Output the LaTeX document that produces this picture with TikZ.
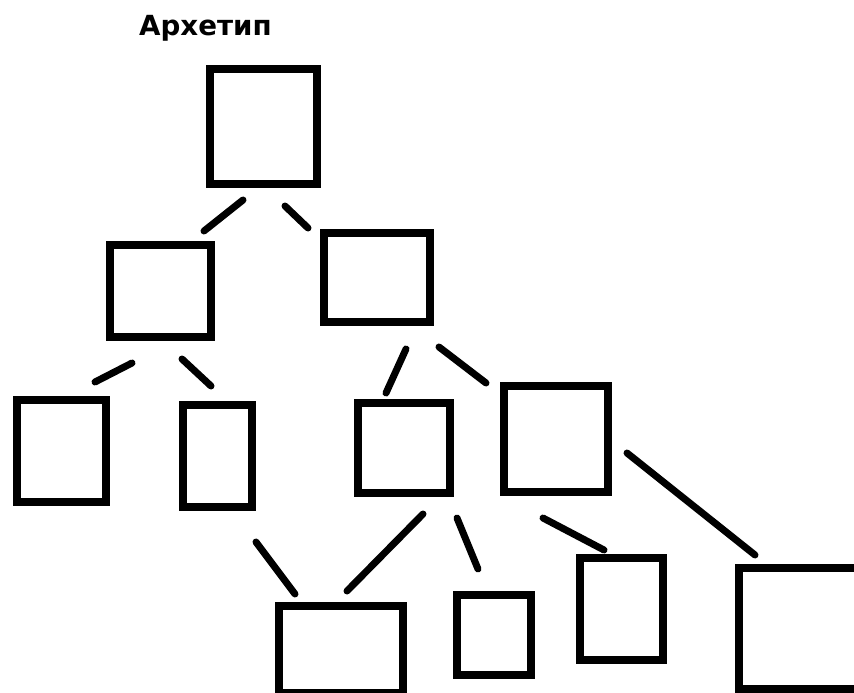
\documentclass[tikz,border=0pt]{standalone}
\usepackage{fontspec}
\setmainfont{DejaVu Sans}
\begin{document}
\begin{tikzpicture}[x=1bp,y=-1bp,
  box/.style={draw=black, line width=8bp, rectangle, inner sep=0pt, outer sep=0pt, fill=none},
  link/.style={draw=black, line width=7bp, line cap=round}]
\clip (0,0) rectangle (854,693);
\fill[white] (0,0) rectangle (854,693);
\node[anchor=base west, inner sep=0pt] (title) at (139,36) {\bfseries\fontsize{27.8}{32}\selectfont Архетип};
% boxes (stroke-centre sizes)
\node[box, minimum width=106.7bp, minimum height=115bp]   (top) at (263.35,126.5) {};
\node[box, minimum width=101bp,   minimum height=92bp]    (l1)  at (160.5,290.7) {};
\node[box, minimum width=106bp,   minimum height=88.7bp]  (r1)  at (377,277.65) {};
\node[box, minimum width=88.8bp,  minimum height=101.7bp] (ll)  at (61.1,450.85) {};
\node[box, minimum width=68.7bp,  minimum height=101.8bp] (lr)  at (217.35,455.9) {};
\node[box, minimum width=92.2bp,  minimum height=90.3bp]  (rl)  at (403.9,448.15) {};
\node[box, minimum width=104bp,   minimum height=105.2bp] (rr)  at (556,438.9) {};
\node[box, minimum width=124bp,   minimum height=87bp]    (b1)  at (340.8,649.5) {};
\node[box, minimum width=74bp,    minimum height=80.5bp]  (b2)  at (493.7,634.75) {};
\node[box, minimum width=83.8bp,  minimum height=102bp]   (b3)  at (621.4,608.5) {};
\node[box, minimum width=136bp,   minimum height=121.5bp] (b4)  at (807,628.25) {};
% connector ends
\coordinate (a1) at (243,200);  \coordinate (a2) at (204,231);
\coordinate (b1s) at (285,206); \coordinate (b1e) at (308,228);
\coordinate (c1) at (132,363);  \coordinate (c2) at (95,382);
\coordinate (d1) at (182,359);  \coordinate (d2) at (211,386);
\coordinate (e1) at (406,349);  \coordinate (e2) at (386,393);
\coordinate (f1) at (439,347);  \coordinate (f2) at (486,383);
\coordinate (g1) at (423,514);  \coordinate (g2) at (347,591);
\coordinate (h1) at (457,518);  \coordinate (h2) at (478,569);
\coordinate (i1) at (256,542);  \coordinate (i2) at (295,594);
\coordinate (j1) at (543,518);  \coordinate (j2) at (604,550);
\coordinate (k1) at (627,453);  \coordinate (k2) at (755,555);
\draw[link] (a1) -- (a2);
\draw[link] (b1s) -- (b1e);
\draw[link] (c1) -- (c2);
\draw[link] (d1) -- (d2);
\draw[link] (e1) -- (e2);
\draw[link] (f1) -- (f2);
\draw[link] (g1) -- (g2);
\draw[link] (h1) -- (h2);
\draw[link] (i1) -- (i2);
\draw[link] (j1) -- (j2);
\draw[link] (k1) -- (k2);
\end{tikzpicture}
\end{document}
